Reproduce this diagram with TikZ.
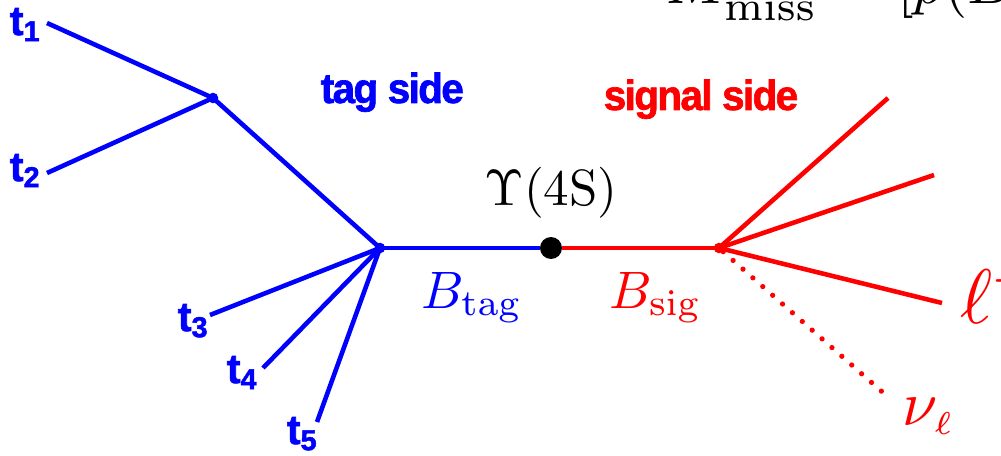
\documentclass[tikz,border=0pt]{standalone}
\usepackage[no-math]{fontspec}
\usepackage{graphicx}
\newfontfamily\arialfont{Liberation Sans}[FakeBold=1.6, LetterSpace=-4]
\usetikzlibrary{positioning}

\newcommand{\tlab}[1]{{\arialfont\bfseries t\textsubscript{#1}}}

\begin{document}
\begin{tikzpicture}[
  x=0.02cm, y=-0.02cm,
  tagline/.style={blue, line width=2.6pt},
  sigline/.style={red, line width=2.6pt},
  nuline/.style={red, line width=3pt, line cap=round, dash pattern=on 0pt off 7.5pt},
  vertex/.style={circle, fill, inner sep=0pt, minimum size=6pt},
  trk/.style={anchor=base west, inner sep=0pt, blue, scale=2.35},
  side/.style={anchor=base west, inner sep=0pt, xscale=2.3, yscale=2.4, font=\arialfont\bfseries},
  lbl/.style={anchor=base west, inner sep=0pt}
]
\useasboundingbox (0,0) rectangle (1001,456);

% Formula cut at the top
\begin{scope}
  \clip (0,0) rectangle (1001,456);
  \node[lbl, scale=3.4] (formula) at (665,4) {$M^2_{\mathrm{miss}} = [p(B$};
\end{scope}

% Vertices
\node[vertex, blue] (vA) at (213,98) {};
\node[vertex, blue] (vB) at (380,248) {};
\node[vertex, minimum size=12.5pt] (ups) at (551,248) {};
\node[vertex, red] (vS) at (719,248) {};

% Free track ends
\coordinate (e1) at (47,23);
\coordinate (e2) at (47,173);
\coordinate (e3) at (210,315);
\coordinate (e4) at (263,368);
\coordinate (e5) at (317,422);
\coordinate (s1) at (888,98);
\coordinate (s2) at (934,175);
\coordinate (lep) at (942,303);
\coordinate (nu) at (888,397);

% Labels
\node[trk] (t1) at (9,35) {\tlab{1}};
\node[trk] (t2) at (9,181) {\tlab{2}};
\node[trk] (t3) at (177,331) {\tlab{3}};
\node[trk] (t4) at (226,383) {\tlab{4}};
\node[trk] (t5) at (286,444) {\tlab{5}};
\node[side, blue] (tagside) at (320,103) {tag side};
\node[side, red] (sigside) at (603,110) {signal side};
\node[inner sep=0pt, scale=2.9, above=0.34cm of ups] (upslbl) {$\Upsilon(4\mathrm{S})$};
\node[lbl, blue, scale=3] (btag) at (420,308) {$B_{\mathrm{tag}}$};
\node[lbl, red, scale=3] (bsig) at (608,308) {$B_{\mathrm{sig}}$};
\node[lbl, red, scale=4.4] (leplbl) at (959,323) {$\ell^+$};
\node[lbl, red, scale=3.6] (nulbl) at (901,425) {$\nu_{\scriptscriptstyle\ell}$};

% Tag side tracks
\draw[tagline] (e1) -- (vA.center);
\draw[tagline] (e2) -- (vA.center);
\draw[tagline] (vA.center) -- (vB.center);
\draw[tagline] (e3) -- (vB.center);
\draw[tagline] (e4) -- (vB.center);
\draw[tagline] (e5) -- (vB.center);
\draw[tagline] (vB.center) -- (ups);

% Signal side tracks
\draw[sigline] (ups) -- (vS.center);
\draw[sigline] (vS.center) -- (s1);
\draw[sigline] (vS.center) -- (s2);
\draw[sigline] (vS.center) -- (lep);
\draw[nuline] (vS) -- (nu);

\end{tikzpicture}
\end{document}
